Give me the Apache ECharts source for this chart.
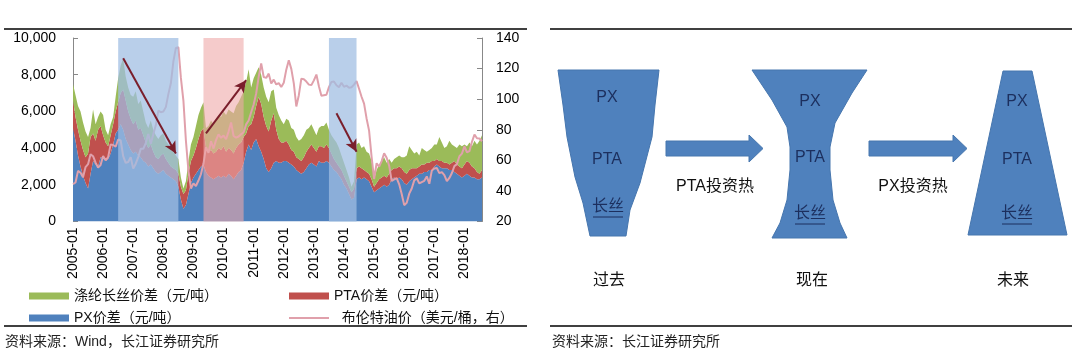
<!DOCTYPE html>
<html>
<head>
<meta charset="utf-8">
<script src="https://cdn.jsdelivr.net/npm/echarts@6/dist/echarts.min.js"></script>
<style>
  html, body { margin: 0; padding: 0; background: #fff; }
  #main { width: 1080px; height: 353px; }
</style>
</head>
<body>
<div id="main"></div>
<script>
// 月份 2005-01 ~ 2018-08
const months = [];
for (let y = 2005; y <= 2018; y++) {
  for (let m = 1; m <= 12; m++) {
    if (y === 2018 && m > 8) break;
    months.push(y + '-' + String(m).padStart(2, '0'));
  }
}

// PX价差（元/吨）
const pxSpread = [
  5100,4400,3600,3000,2500,2100,1800,2600,3300,3100,3000,3500,
  3500,3300,3400,3700,4200,4800,5000,5300,5000,4500,4200,3900,
  3700,3800,3600,3500,3300,3200,3000,3100,2900,2700,2600,2700,
  2800,2600,2500,2400,2300,2200,1900,1200,700,900,1500,2100,
  2400,2600,2800,3000,3100,2700,2500,2400,2300,2400,2500,2400,
  2500,2400,2600,2500,2300,2500,2700,2800,3200,3800,4200,3900,
  4300,4500,4100,3800,3400,2900,2700,2900,3200,3300,3200,3200,
  3300,3300,3200,3100,3000,2800,2700,2600,2700,2900,3100,3200,
  3100,3000,3300,3200,3200,3300,3200,3000,2800,2700,2500,2300,
  2000,1800,1500,1200,1300,2300,2400,2300,2400,2300,2200,1900,
  1600,1700,1800,1900,2000,1900,2000,2300,2400,2300,2400,2300,
  2100,2000,2200,2300,2400,2500,2600,2600,2700,2700,2800,2800,
  3000,3100,3000,2900,2900,2900,2800,2800,2700,2600,2500,2400,
  2500,2600,2500,2400,2400,2300,2300,2400
];

// PTA价差（元/吨）
const ptaSpread = [
  1500,1300,1400,1400,1400,1400,1900,2000,1500,1300,2000,1700,
  1200,1000,700,1000,1100,1200,1500,1700,2200,2100,1800,1700,
  1600,1700,1400,1600,1400,1100,1000,1100,900,800,800,900,
  900,800,700,600,600,600,700,700,800,800,1100,1200,
  1200,1400,1700,1900,2000,1300,1300,1500,1400,1400,1500,1500,
  1600,1400,1400,1400,1400,1500,1500,1500,1400,1000,1000,1400,
  1400,1800,2700,2600,2300,2300,2200,2600,2700,1700,1300,1100,
  1000,1100,1000,800,800,700,700,700,800,900,900,1000,
  900,800,800,900,800,900,800,700,600,500,500,500,
  500,400,400,400,500,600,600,600,400,400,400,400,
  300,400,500,500,500,500,600,500,500,600,600,600,
  600,600,600,600,500,400,400,500,400,500,400,500,
  300,300,300,400,300,300,300,400,600,500,500,500,
  600,700,700,600,500,400,300,400
];

// 涤纶长丝价差（元/吨）
const filamentSpread = [
  900,1200,1300,1600,1500,1400,900,500,1300,900,700,800,
  1100,700,600,600,400,800,1300,1500,1700,1300,1300,1300,
  1500,1600,1400,1500,1300,1100,1100,1300,1200,1200,1100,1100,
  1100,1000,1000,900,900,800,800,500,300,500,700,900,
  1000,1200,1300,1300,1400,1100,1400,1600,1600,1800,1800,1800,
  1900,2000,2100,2100,2200,2300,2300,2500,2500,2800,3100,2000,
  2100,1800,1600,1600,1600,1600,1600,1600,1300,1200,1300,1200,
  1000,1200,1300,1200,1200,1100,1000,1200,1200,1200,1100,1100,
  1000,900,1000,1100,1200,1200,1000,1000,1100,1100,1000,800,
  700,600,500,300,400,1300,1300,1100,1300,1100,1100,1000,
  400,700,800,900,1000,800,800,400,500,600,600,600,
  800,1000,1300,1000,800,900,600,900,800,600,700,700,
  900,800,1300,1000,800,900,1300,1000,800,900,1200,1200,
  1100,800,1100,1100,1500,1500,1800,1900
];

// 布伦特油价（美元/桶，右）
const brent = [
  44.5,45.5,53.1,51.9,49.0,55.6,57.5,63.9,62.7,58.5,55.2,56.9,
  62.9,60.0,62.1,70.4,70.0,68.9,73.6,73.0,62.8,58.4,58.9,62.1,
  54.6,57.8,62.1,67.5,67.5,71.3,77.2,70.8,77.1,82.9,92.5,91.5,
  91.9,94.8,103.3,110.4,124.6,133.5,133.9,113.9,99.1,72.8,53.2,41.6,
  44.9,43.2,46.8,50.9,57.9,68.6,64.9,72.5,67.7,73.2,77.0,74.7,
  76.2,73.8,78.8,84.8,75.9,74.8,75.6,77.1,78.2,83.5,86.1,91.4,
  96.5,103.7,114.6,123.3,114.5,113.9,116.7,110.2,112.8,109.6,110.5,107.9,
  110.7,119.3,125.4,119.8,110.3,95.2,102.6,113.4,113.0,111.5,109.5,109.2,
  112.3,116.1,108.5,102.3,102.6,102.9,107.9,111.3,111.6,109.1,107.8,110.8,
  108.1,108.9,107.5,107.8,109.5,111.8,106.8,101.6,97.1,87.4,79.4,62.3,
  47.8,58.1,55.9,59.5,64.6,61.7,56.5,46.5,47.6,48.4,44.3,38.0,
  30.7,32.2,38.2,41.6,46.9,48.3,44.9,45.8,46.6,49.5,44.7,53.3,
  54.6,55.0,51.6,52.3,50.3,46.4,48.5,51.7,56.2,57.5,62.7,64.4,
  69.1,65.3,66.0,72.1,76.9,74.4,74.3,72.5
];

// 阴影区间
const bands = [
  ['2006-07', '2008-07', 'rgba(160,190,226,0.74)'],
  ['2009-05', '2010-09', 'rgba(238,168,168,0.6)'],
  ['2013-07', '2014-06', 'rgba(160,190,226,0.74)']
];
// 箭头 [起点月份, 起点值, 终点月份, 终点值]
const arrows = [
  ['2006-09', 8900, '2008-06', 3700],
  ['2009-06', 4800, '2010-10', 7700],
  ['2013-10', 5900, '2014-06', 3800]
];

const yLeftTicks = { min: 0, max: 10000, interval: 2000 };
const yRightTicks = { min: 20, max: 140, interval: 20 };

const FONT = "'Liberation Sans', Arial, 'Noto Sans CJK SC', sans-serif";
const NAME_FIL = '涤纶长丝价差（元/吨）';
const NAME_PTA = 'PTA价差（元/吨）';
const NAME_PX = 'PX价差（元/吨）';
const NAME_OIL = '布伦特油价（美元/桶，右）';

const BLUE = '#4F81BD';
const NAVY = '#1C2F5E';
const OIL = '#E0A0AB';

function txt(text, x, y, size, color) {
  return {
    type: 'text', x: x, y: y, z: 100,
    style: {
      text: text, fill: color || '#111', font: size + 'px ' + FONT,
      textAlign: 'center', align: 'center',
      textVerticalAlign: 'middle', verticalAlign: 'middle'
    }
  };
}
function rule(x1, x2, y) {
  return { type: 'line', z: 100, shape: { x1: x1, y1: y, x2: x2, y2: y }, style: { stroke: '#000', lineWidth: 1.5 } };
}
function shape(points) {
  return { type: 'polygon', z: 90, shape: { points: points }, style: { fill: BLUE, stroke: '#4676AE', lineWidth: 1 } };
}
function blockArrow(x0, x1, x2) {
  return shape([[x0, 141], [x1, 141], [x1, 135], [x2, 148.5], [x1, 162], [x1, 156], [x0, 156]]);
}

const graphic = [
  rule(4, 527, 29),
  rule(4, 527, 326),
  { type: 'text', x: 5, y: 342, z: 100, style: { text: '资料来源：Wind，长江证券研究所', fill: '#222', font: '14px ' + FONT, textVerticalAlign: 'middle', verticalAlign: 'middle' } },
  rule(550, 1072, 29),
  rule(550, 1072, 326),
  { type: 'text', x: 552, y: 342, z: 100, style: { text: '资料来源：长江证券研究所', fill: '#222', font: '14px ' + FONT, textVerticalAlign: 'middle', verticalAlign: 'middle' } },

  // 过去
  shape([[558,70],[659,70],[655,105],[652,137],[640,183],[630,210],[626,236],[590,236],[583,203],[575,177],[567,137],[563,105]]),
  // 现在
  shape([[752,70],[867,70],[852,93],[835,123],[830,147],[830,170],[833,200],[840,223],[847,238],
         [772,238],[780,223],[787,200],[790,170],[790,147],[787,127],[772,100]]),
  // 未来
  shape([[1003,71],[1032,71],[1067,235],[968,235]]),
  blockArrow(666, 749, 763),
  blockArrow(869, 953, 967),

  txt('PX', 607, 98, 16, NAVY), txt('PTA', 607, 160, 16, NAVY), txt('长丝', 608, 207, 16, NAVY),
  txt('PX', 810, 102, 16, NAVY), txt('PTA', 810, 158, 16, NAVY), txt('长丝', 810, 214, 16, NAVY),
  txt('PX', 1017, 102, 16, NAVY), txt('PTA', 1017, 160, 16, NAVY), txt('长丝', 1017, 214, 16, NAVY),
  { type: 'line', z: 100, shape: { x1: 593, y1: 217, x2: 623, y2: 217 }, style: { stroke: NAVY, lineWidth: 1 } },
  { type: 'line', z: 100, shape: { x1: 795, y1: 224, x2: 825, y2: 224 }, style: { stroke: NAVY, lineWidth: 1 } },
  { type: 'line', z: 100, shape: { x1: 1002, y1: 224, x2: 1032, y2: 224 }, style: { stroke: NAVY, lineWidth: 1 } },

  txt('PTA投资热', 715, 187, 16), txt('PX投资热', 913, 187, 16),
  txt('过去', 609, 281, 16), txt('现在', 812, 281, 16), txt('未来', 1013, 281, 16)
];

const areaSeries = function (name, data, color) {
  return {
    name: name, type: 'line', stack: 'spread', data: data,
    symbol: 'none', showSymbol: false, color: color,
    lineStyle: { width: 0 }, areaStyle: { color: color, opacity: 1 },
    z: 2, silent: true
  };
};

const chart = echarts.init(document.getElementById('main'), null, { renderer: 'canvas' });
chart.setOption({
  animation: false,
  backgroundColor: '#fff',
  textStyle: { fontFamily: FONT },
  grid: { left: 73, right: 598, top: 38, bottom: 131.5, containLabel: false },
  legend: [
    {
      left: 24, top: 284, orient: 'vertical', itemWidth: 40, itemHeight: 7, itemGap: 8,
      textStyle: { fontSize: 14, color: '#111', fontFamily: FONT, lineHeight: 14 },
      data: [{ name: NAME_FIL, icon: 'rect' }, { name: NAME_PX, icon: 'rect' }]
    },
    {
      left: 284, top: 284, orient: 'vertical', itemWidth: 40, itemHeight: 7, itemGap: 8,
      textStyle: { fontSize: 14, color: '#111', fontFamily: FONT, lineHeight: 14 },
      formatter: function (n) { return n === NAME_OIL ? '  ' + n : n; },
      data: [
        { name: NAME_PTA, icon: 'rect' },
        { name: NAME_OIL, icon: 'path://M0,0 L40,0 L40,2 L0,2 Z', itemStyle: { color: OIL } }
      ]
    }
  ],
  xAxis: {
    type: 'category', data: months, boundaryGap: false,
    axisLine: { show: false }, axisTick: { show: false },
    axisLabel: { interval: 11, rotate: 90, margin: 6, fontSize: 14, color: '#000', fontFamily: FONT }
  },
  yAxis: [
    {
      type: 'value', min: yLeftTicks.min, max: yLeftTicks.max, interval: yLeftTicks.interval,
      splitLine: { show: false },
      axisLine: { show: true, lineStyle: { color: '#888', width: 1 } },
      axisTick: { show: true, inside: true, length: 5, lineStyle: { color: '#888' } },
      axisLabel: { margin: 17, fontSize: 14, color: '#000', fontFamily: FONT,
        formatter: function (v) { return v.toLocaleString('en-US'); } }
    },
    {
      type: 'value', min: yRightTicks.min, max: yRightTicks.max, interval: yRightTicks.interval,
      splitLine: { show: false },
      axisLine: { show: true, lineStyle: { color: '#888', width: 1 } },
      axisTick: { show: true, inside: true, length: 5, lineStyle: { color: '#888' } },
      axisLabel: { margin: 14, fontSize: 14, color: '#000', fontFamily: FONT }
    }
  ],
  series: [
    areaSeries(NAME_PX, pxSpread, BLUE),
    areaSeries(NAME_PTA, ptaSpread, '#C0504D'),
    areaSeries(NAME_FIL, filamentSpread, '#9BBB59'),
    {
      name: NAME_OIL, type: 'line', yAxisIndex: 1, data: brent,
      symbol: 'none', showSymbol: false, color: OIL,
      lineStyle: { width: 2, color: OIL }, z: 3, silent: true
    },
    {
      name: 'bands', type: 'line', data: [], z: 10, silent: true,
      markArea: {
        silent: true, z: 10,
        data: bands.map(function (b) {
          return [{ xAxis: b[0], itemStyle: { color: b[2] } }, { xAxis: b[1] }];
        })
      }
    },
    {
      name: 'arrows', type: 'line', data: [], z: 11, silent: true,
      markLine: {
        silent: true, z: 11, animation: false,
        symbol: ['none', 'arrow'], symbolSize: [9, 12],
        label: { show: false },
        lineStyle: { color: '#7A1E2B', width: 2, type: 'solid' },
        data: arrows.map(function (a) {
          return [{ coord: [a[0], a[1]] }, { coord: [a[2], a[3]] }];
        })
      }
    }
  ],
  graphic: graphic
});
</script>
</body>
</html>
